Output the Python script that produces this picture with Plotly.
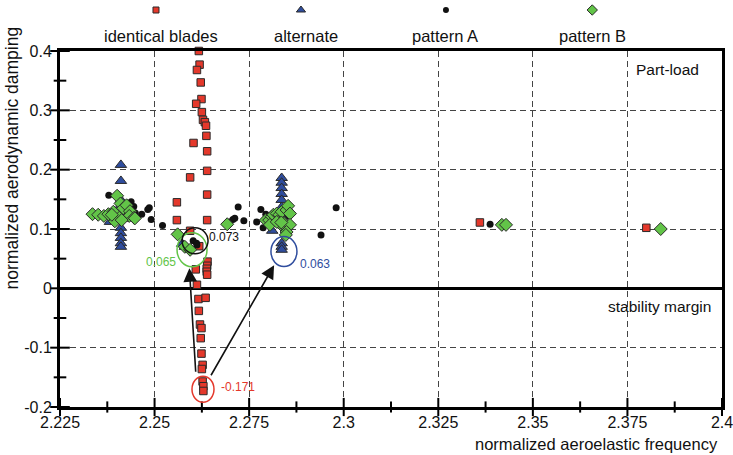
import plotly.graph_objects as go

# ---------------- data ----------------
ident_x = [2.2617, 2.2619, 2.2612, 2.2622, 2.2624, 2.2610, 2.2625, 2.2628, 2.2633, 2.2636,
           2.2637, 2.2603, 2.2639, 2.2639, 2.2594, 2.2639, 2.2559, 2.2559, 2.2639, 2.2594,
           2.2618, 2.2640, 2.2639, 2.2638, 2.2638, 2.2639, 2.2609, 2.2612, 2.2616, 2.2635,
           2.2617, 2.2620, 2.2624, 2.2622, 2.2624, 2.2627, 2.2625, 2.2627, 2.2629, 2.2629,
           2.3360, 2.3800]
ident_y = [0.400, 0.377, 0.368, 0.347, 0.319, 0.311, 0.297, 0.284, 0.280, 0.274,
           0.257, 0.245, 0.231, 0.198, 0.187, 0.158, 0.145, 0.115, 0.115, 0.097,
           0.071, 0.045, 0.038, 0.033, 0.028, 0.023, 0.032, 0.006, -0.018, -0.016,
           -0.038, -0.061, -0.067, -0.084, -0.110, -0.129, -0.136, -0.157, -0.165, -0.173,
           0.111, 0.102]

patA_x = [2.2379, 2.2438, 2.2449, 2.2466, 2.2482, 2.2486, 2.2491, 2.2521, 2.2391, 2.2420,
          2.2405, 2.2430, 2.2445, 2.2602, 2.2611, 2.2612,
          2.2699, 2.2707, 2.2712, 2.2721, 2.2736, 2.2770, 2.2781, 2.2787, 2.2794, 2.2820,
          2.2835, 2.2850, 2.2940, 2.2980, 2.3387, 2.3424, 2.3838]
patA_y = [0.157, 0.146, 0.127, 0.125, 0.133, 0.136, 0.116, 0.106, 0.113, 0.130,
          0.120, 0.118, 0.138, 0.080, 0.076, 0.073,
          0.112, 0.116, 0.118, 0.137, 0.114, 0.112, 0.133, 0.102, 0.125, 0.128,
          0.118, 0.122, 0.090, 0.136, 0.108, 0.107, 0.100]

alt_x = [2.2411, 2.2411, 2.2411, 2.2411, 2.2411, 2.2411, 2.2411, 2.2411, 2.2411, 2.2411,
         2.2411, 2.2382,
         2.2836, 2.2836, 2.2836, 2.2836, 2.2836, 2.2836, 2.2836, 2.2836, 2.2836, 2.2811,
         2.2836, 2.2836, 2.2580, 2.2573]
alt_y = [0.208, 0.181, 0.149, 0.140, 0.131, 0.124, 0.102, 0.093, 0.085, 0.076,
         0.070, 0.112,
         0.186, 0.178, 0.169, 0.159, 0.149, 0.137, 0.076, 0.070, 0.065, 0.097,
         0.120, 0.110, 0.070, 0.075]

patB_x = [2.2336, 2.2351, 2.2366, 2.2378, 2.2391, 2.2401, 2.2410, 2.2417, 2.2426, 2.2435,
          2.2433, 2.2446, 2.2407, 2.2395, 2.2413, 2.2448, 2.2387,
          2.2561, 2.2580, 2.2594, 2.2692,
          2.2794, 2.2803, 2.2810, 2.2814, 2.2823, 2.2830, 2.2836, 2.2849, 2.2853, 2.2858,
          2.2827, 2.2805, 2.2842, 2.2840, 2.2849, 2.2858, 2.2849, 2.2847, 2.2823, 2.2835,
          2.3418, 2.3429, 2.3838]
patB_y = [0.125, 0.124, 0.122, 0.125, 0.129, 0.156, 0.143, 0.135, 0.140, 0.130,
          0.122, 0.119, 0.119, 0.113, 0.115, 0.118, 0.124,
          0.091, 0.070, 0.065, 0.108,
          0.115, 0.115, 0.121, 0.124, 0.126, 0.124, 0.129, 0.132, 0.139, 0.126,
          0.112, 0.107, 0.110, 0.104, 0.102, 0.107, 0.095, 0.090, 0.112, 0.111,
          0.107, 0.107, 0.100]

# highlighted minima
hl_x = [2.2599, 2.2607, 2.2842, 2.2628]
hl_y = [0.065, 0.080, 0.062, -0.170]
hl_text = ["0.065", "0.073", "0.063", "-0.171"]

series_names = ["identical blades", "alternate", "pattern A", "pattern B"]

x_ticks = [2.225, 2.25, 2.275, 2.3, 2.325, 2.35, 2.375, 2.4]
x_ticklabels = ["2.225", "2.25", "2.275", "2.3", "2.325", "2.35", "2.375", "2.4"]
x_minor = [2.2375, 2.2625, 2.2875, 2.3125, 2.3375, 2.3625, 2.3875]
y_ticks = [-0.2, -0.1, 0, 0.1, 0.2, 0.3, 0.4]
y_ticklabels = ["-0.2", "-0.1", "0", "0.1", "0.2", "0.3", "0.4"]
y_minor = [-0.15, -0.05, 0.05, 0.15, 0.25, 0.35]

X_RANGE = [2.225, 2.4]
Y_RANGE = [-0.2, 0.4]

# ---------------- styles ----------------
FONT = "Liberation Sans, Arial, sans-serif"
RED = "#e4382b"
BLUE = "#2f4d9e"
GREEN = "#62c448"
BLACK = "#111111"
EDGE = "#2a2a2a"

styles = [
    dict(symbol="square", size=7.5, color=RED, line=dict(color=EDGE, width=1)),
    dict(symbol="triangle-up", size=10, color=BLUE, line=dict(color=EDGE, width=1)),
    dict(symbol="circle", size=7, color=BLACK, line=dict(color=BLACK, width=0)),
    dict(symbol="diamond", size=10, color=GREEN, line=dict(color=EDGE, width=1)),
]
legend_sizes = [6, 8, 6, 8]
hl_colors = [GREEN, BLACK, BLUE, RED]

H, MB, MT = 455, 48, 0
PAPER_H = H - MB - MT          # 407 px
PLOT_TOP_PX = 51               # top of the data area from the top of the page
MAIN_TOP = (PAPER_H - (PLOT_TOP_PX - MT)) / PAPER_H

fig = go.Figure()

# data traces (draw order: red, black, blue, green)
fig.add_trace(go.Scatter(x=ident_x, y=ident_y, mode="markers", marker=styles[0],
                         name=series_names[0], cliponaxis=False))
fig.add_trace(go.Scatter(x=patA_x, y=patA_y, mode="markers", marker=styles[2],
                         name=series_names[2], cliponaxis=False))
fig.add_trace(go.Scatter(x=alt_x, y=alt_y, mode="markers", marker=styles[1],
                         name=series_names[1], cliponaxis=False))
fig.add_trace(go.Scatter(x=patB_x, y=patB_y, mode="markers", marker=styles[3],
                         name=series_names[3], cliponaxis=False))

# crossing tick marks centred on the axis lines
tick_line = dict(color="black", width=2)
fig.add_trace(go.Scatter(x=x_ticks, y=[Y_RANGE[0]] * len(x_ticks), mode="markers",
                         marker=dict(symbol="line-ns", size=13, line=tick_line),
                         cliponaxis=False, hoverinfo="skip"))
fig.add_trace(go.Scatter(x=x_minor, y=[Y_RANGE[0]] * len(x_minor), mode="markers",
                         marker=dict(symbol="line-ns", size=8, line=tick_line),
                         cliponaxis=False, hoverinfo="skip"))
fig.add_trace(go.Scatter(x=[X_RANGE[0]] * len(y_ticks), y=y_ticks, mode="markers",
                         marker=dict(symbol="line-ew", size=14, line=tick_line),
                         cliponaxis=False, hoverinfo="skip"))
fig.add_trace(go.Scatter(x=[X_RANGE[0]] * len(y_minor), y=y_minor, mode="markers",
                         marker=dict(symbol="line-ew", size=9, line=tick_line),
                         cliponaxis=False, hoverinfo="skip"))

# custom legend (markers above the plot, labels below them) in a strip subplot
leg_mx = [0.145, 0.364, 0.583, 0.804]
leg_tx = [0.153, 0.372, 0.582, 0.805]
LEG_DOM = [0.9, 1.0]
leg_marker_y = ((PAPER_H - (10 - MT)) / PAPER_H - LEG_DOM[0]) / (LEG_DOM[1] - LEG_DOM[0])
leg_text_y = (PAPER_H - (36 - MT)) / PAPER_H
for i in range(4):
    mk = dict(styles[i], size=legend_sizes[i])
    fig.add_trace(go.Scatter(x=[leg_mx[i]], y=[leg_marker_y], mode="markers", marker=mk,
                             xaxis="x3", yaxis="y3", cliponaxis=False, hoverinfo="skip"))
    fig.add_annotation(x=leg_tx[i], y=leg_text_y, xref="paper", yref="paper", text=series_names[i],
                       showarrow=False, font=dict(family=FONT, size=16.5, color="#111"),
                       xanchor="center", yanchor="middle")

# highlight circles
radii = [(15, 17), (13, 13), (13, 15), (11, 13)]
for i in range(4):
    rx, ry = radii[i]
    fig.add_shape(type="circle", xref="x", yref="y", xsizemode="pixel", ysizemode="pixel",
                  xanchor=hl_x[i], yanchor=hl_y[i], x0=-rx, x1=rx, y0=-ry, y1=ry,
                  line=dict(color=hl_colors[i], width=1.5))

# highlight labels
lab_pos = [dict(xanchor="right", xshift=-14, yshift=-12),
           dict(xanchor="left", xshift=12, yshift=4),
           dict(xanchor="left", xshift=14, yshift=-12),
           dict(xanchor="left", xshift=16, yshift=2)]
for i in range(4):
    fig.add_annotation(x=hl_x[i], y=hl_y[i], text=hl_text[i], showarrow=False,
                       font=dict(family=FONT, size=12, color=hl_colors[i]),
                       yanchor="middle", **lab_pos[i])

# arrows from the identical-blades minimum to the mistuned minima
arrows = [((2.2609, -0.143), (2.2592, 0.034)), ((2.2647, -0.149), (2.2816, 0.039))]
for (tx, ty), (hx, hy) in arrows:
    fig.add_annotation(x=hx, y=hy, ax=tx, ay=ty, xref="x", yref="y", axref="x", ayref="y",
                       text="", showarrow=True, arrowhead=2, arrowsize=1.7, arrowwidth=1.6,
                       arrowcolor="#111")

# region labels
fig.add_annotation(x=0.918, y=0.947, xref="x domain", yref="y domain", text="Part-load",
                   showarrow=False, xanchor="center", yanchor="middle",
                   font=dict(family=FONT, size=15.5, color="#111"))
fig.add_annotation(x=0.906, y=0.281, xref="x domain", yref="y domain", text="stability margin",
                   showarrow=False, xanchor="center", yanchor="middle",
                   font=dict(family=FONT, size=15.5, color="#111"))

# axis titles
fig.add_annotation(x=0.997, y=-0.103, xref="x domain", yref="y domain",
                   text="normalized aeroelastic frequency",
                   showarrow=False, xanchor="right", yanchor="middle",
                   font=dict(family=FONT, size=16.5, color="#111"))
fig.add_annotation(x=-0.073, y=0.70, xref="x domain", yref="y domain",
                   text="normalized aerodynamic damping",
                   showarrow=False, textangle=-90, xanchor="center", yanchor="middle",
                   font=dict(family=FONT, size=17.5, color="#111"))

grid_common = dict(showgrid=True, gridcolor="#444", gridwidth=1, griddash="6px,4px")
fig.update_layout(
    width=733, height=H,
    margin=dict(l=60, r=11, t=MT, b=MB, autoexpand=False),
    plot_bgcolor="white", paper_bgcolor="white",
    showlegend=False,
    font=dict(family=FONT, size=16, color="#111"),
    xaxis=dict(range=X_RANGE, domain=[0, 1], tickmode="array", tickvals=x_ticks,
               ticktext=x_ticklabels, ticks="", showline=True, linewidth=3, linecolor="black",
               mirror=True, zeroline=False, automargin=False, ticklabeloverflow="allow",
               ticklabelstandoff=-1,
               tickfont=dict(size=16, color="#111"), **grid_common),
    yaxis=dict(range=Y_RANGE, domain=[0, MAIN_TOP], tickmode="array", tickvals=y_ticks,
               ticktext=y_ticklabels, ticks="", showline=True, linewidth=3, linecolor="black",
               mirror=True, zeroline=True, zerolinewidth=3, zerolinecolor="black",
               automargin=False, ticklabeloverflow="allow", ticklabelstandoff=2,
               tickfont=dict(size=16, color="#111"), **grid_common),
    xaxis3=dict(range=[0, 1], domain=[0, 1], anchor="y3", visible=False, fixedrange=True),
    yaxis3=dict(range=[0, 1], domain=LEG_DOM, anchor="x3", visible=False, fixedrange=True),
)

fig.write_html("out.html")
